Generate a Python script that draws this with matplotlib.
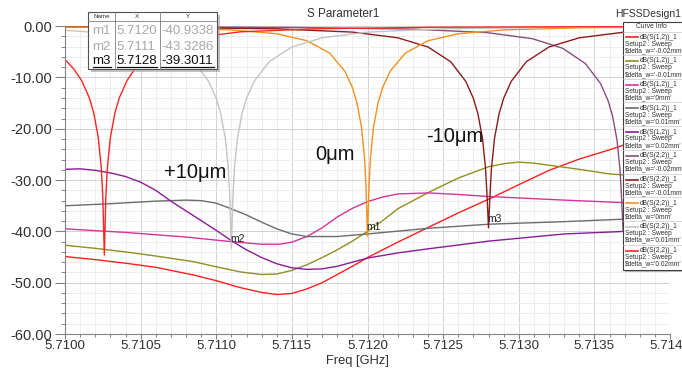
import matplotlib
matplotlib.use('Agg')
import matplotlib.pyplot as plt
from matplotlib.patches import Rectangle
from matplotlib.ticker import MultipleLocator, FormatStrFormatter

plt.rcParams['font.family'] = ['Liberation Sans', 'DejaVu Sans']

# ---------------------------------------------------------------------------
# dB(S(1,2)) traces for each $delta_w sweep point
f12_m002 = [5.7100, 5.7102, 5.7104, 5.7106, 5.71085, 5.7110, 5.71115, 5.7113, 5.7114,
            5.7115, 5.7116, 5.7117, 5.7118, 5.7119, 5.7120, 5.7122, 5.71241, 5.7126,
            5.71281, 5.7130, 5.7132, 5.7134, 5.7136, 5.71369, 5.7140]
db12_m002 = [-44.9, -45.5, -46.2, -47.0, -48.5, -49.6, -50.9, -51.9, -52.3,
             -52.1, -51.2, -50.0, -48.4, -46.8, -45.1, -42.1, -39.1, -36.4,
             -33.6, -30.9, -28.1, -25.9, -24.1, -23.2, -21.4]

f12_m001 = [5.7100, 5.7102, 5.7104, 5.7106, 5.71085, 5.7110, 5.71116, 5.7113, 5.7114,
            5.7115, 5.7116, 5.7117, 5.7118, 5.7119, 5.7120, 5.7121, 5.7122, 5.71241,
            5.7126, 5.7128, 5.7129, 5.7130, 5.7131, 5.7132, 5.7134, 5.7136, 5.7140]
db12_m001 = [-42.7, -43.3, -44.0, -44.8, -45.9, -46.9, -47.9, -48.4, -48.3,
             -47.6, -46.5, -45.1, -43.6, -41.9, -40.0, -37.9, -35.6, -32.3,
             -29.6, -27.4, -26.8, -26.5, -26.7, -27.1, -27.9, -28.8, -29.6]

f12_0 = [5.7100, 5.7104, 5.7108, 5.7111, 5.7113, 5.71142, 5.7115, 5.7116, 5.7117,
         5.7118, 5.7119, 5.7120, 5.7121, 5.7122, 5.7124, 5.7126, 5.7128, 5.7133,
         5.7137, 5.7140]
db12_0 = [-39.5, -40.2, -41.1, -42.0, -42.5, -42.5, -42.1, -41.0, -39.3,
          -37.2, -35.5, -34.2, -33.3, -32.7, -32.5, -32.8, -33.2, -33.9,
          -34.4, -34.5]

f12_p001 = [5.7100, 5.7103, 5.7106, 5.7108, 5.7109, 5.7110, 5.7111, 5.7112, 5.7113,
            5.7114, 5.7115, 5.7116, 5.7118, 5.7120, 5.7124, 5.7128, 5.7133, 5.7137, 5.7140]
db12_p001 = [-35.0, -34.6, -34.1, -33.9, -34.0, -34.5, -35.6, -36.8, -38.2,
             -39.5, -40.5, -41.0, -41.0, -40.5, -39.4, -38.6, -38.1, -37.6, -37.4]

f12_p002 = [5.7100, 5.7101, 5.7102, 5.7103, 5.7104, 5.7105, 5.7106, 5.7107, 5.7108,
            5.7109, 5.7110, 5.7111, 5.7112, 5.7113, 5.7114, 5.7115, 5.7116, 5.7117,
            5.7118, 5.7119, 5.7120, 5.7122, 5.7124, 5.7128, 5.7133, 5.7137, 5.7140]
db12_p002 = [-27.9, -27.8, -28.1, -28.6, -29.3, -30.4, -32.0, -34.1, -36.0,
             -37.9, -39.8, -41.8, -43.6, -45.1, -46.3, -47.1, -47.4, -47.3,
             -46.8, -46.0, -45.2, -44.2, -43.4, -41.9, -40.5, -40.0, -39.6]

# dB(S(2,2)) traces for each $delta_w sweep point
f22_m002 = [5.71000, 5.71149, 5.71229, 5.71279, 5.71309, 5.71329, 5.71344, 5.71354,
            5.71359, 5.71362, 5.71365, 5.71367, 5.71368, 5.71369, 5.71370, 5.71371,
            5.71373, 5.71376, 5.71379, 5.71384, 5.71394, 5.71400]
db22_m002 = [-0.08, -0.24, -0.56, -1.25, -2.43, -4.30, -7.27, -11.15,
             -14.47, -17.48, -22.26, -28.12, -33.66, -40.0, -33.66, -28.12,
             -22.26, -17.48, -14.47, -11.15, -7.27, -5.8]

f22_m001 = [5.71000, 5.71060, 5.71140, 5.71190, 5.71220, 5.71240, 5.71255, 5.71265,
            5.71270, 5.71273, 5.71276, 5.71278, 5.71279, 5.71280, 5.71281, 5.71282,
            5.71284, 5.71287, 5.71290, 5.71295, 5.71305, 5.71320, 5.71340, 5.71370, 5.71400]
db22_m001 = [-0.13, -0.22, -0.51, -1.15, -2.26, -4.05, -6.93, -10.76,
             -14.07, -17.07, -21.82, -27.59, -32.81, -39.30, -32.81, -27.59,
             -21.82, -17.07, -14.07, -10.76, -6.93, -4.05, -2.26, -1.15, -0.69]

f22_0 = [5.71000, 5.71060, 5.71110, 5.71140, 5.71160, 5.71175, 5.71185, 5.71190,
         5.71193, 5.71196, 5.71198, 5.71199, 5.71200, 5.71201, 5.71202, 5.71204,
         5.71207, 5.71210, 5.71215, 5.71225, 5.71240, 5.71260, 5.71290, 5.71340, 5.71400]
db22_0 = [-0.16, -0.31, -0.72, -1.48, -2.83, -5.25, -8.76, -11.95,
          -14.89, -19.64, -25.53, -31.18, -40.93, -31.18, -25.53, -19.64,
          -14.89, -11.95, -8.76, -5.25, -2.83, -1.48, -0.72, -0.31, -0.16]

f22_p001 = [5.71000, 5.71030, 5.71050, 5.71070, 5.71085, 5.71095, 5.71100, 5.71103,
            5.71106, 5.71108, 5.71109, 5.71110, 5.71111, 5.71112, 5.71114, 5.71117,
            5.71120, 5.71125, 5.71135, 5.71150, 5.71170, 5.71200, 5.71250, 5.71330, 5.71400]
db22_p001 = [-0.80, -1.41, -2.26, -4.05, -6.93, -10.77, -14.08, -17.08,
             -21.87, -27.77, -33.44, -43.33, -33.44, -27.77, -21.87, -17.08,
             -14.08, -10.77, -6.93, -4.05, -2.26, -1.15, -0.51, -0.22, -0.13]

f22_p002 = [5.71000, 5.71006, 5.71011, 5.71016, 5.71019, 5.71022, 5.71024, 5.71025,
            5.71026, 5.71027, 5.71028, 5.71030, 5.71033, 5.71036, 5.71041, 5.71046,
            5.71051, 5.71066, 5.71086, 5.71116, 5.71166, 5.71246, 5.71376, 5.71400]
db22_p002 = [-6.5, -8.4, -10.6, -13.9, -16.9, -21.7, -27.6, -33.3,
             -44.6, -33.3, -27.6, -21.7, -16.9, -13.9, -10.6, -8.4,
             -6.8, -3.9, -2.2, -1.1, -0.5, -0.2, -0.08, -0.07]

# Marker table
marker_names = ['m1', 'm2', 'm3']
marker_x = [5.7120, 5.7111, 5.7128]
marker_y = [-40.9338, -43.3286, -39.3011]

# Curve info
trace_names = ['dB(S(1,2))_1'] * 5 + ['dB(S(2,2))_1'] * 5
delta_w = ["-0.02mm", "-0.01mm", "0mm", "0.01mm", "0.02mm"] * 2
trace_colors = ['#ff1e1e', '#8f8f1e', '#d6339f', '#6c6c6c', '#8a1c96',
                '#8a4d80', '#8c1b1b', '#f5901e', '#c4c4c4', '#ff2424']
traces = [(f12_m002, db12_m002), (f12_m001, db12_m001), (f12_0, db12_0),
          (f12_p001, db12_p001), (f12_p002, db12_p002),
          (f22_m002, db22_m002), (f22_m001, db22_m001), (f22_0, db22_0),
          (f22_p001, db22_p001), (f22_p002, db22_p002)]

# ---------------------------------------------------------------------------
W, H = 682, 368
fig = plt.figure(figsize=(W / 100, H / 100), dpi=100)
fig.patch.set_facecolor('white')

ax = fig.add_axes([65 / W, 34 / H, 605 / W, 307.8 / H])
for (f, db), c in zip(traces, trace_colors):
    ax.plot(f, db, color=c, lw=1.0, solid_joinstyle='round')

ax.set_xlim(5.7100, 5.7140)
ax.set_ylim(-60, 0)
ax.xaxis.set_major_locator(MultipleLocator(0.0005))
ax.xaxis.set_minor_locator(MultipleLocator(0.0001))
ax.yaxis.set_major_locator(MultipleLocator(10))
ax.yaxis.set_minor_locator(MultipleLocator(2))
ax.xaxis.set_major_formatter(FormatStrFormatter('%.4f'))
ax.yaxis.set_major_formatter(FormatStrFormatter('%.2f'))

ax.set_axisbelow(True)
ax.grid(which='major', color='#d2d2d2', lw=0.7)
ax.grid(which='minor', color='#ebebeb', lw=0.6)
for s in ['top', 'right']:
    ax.spines[s].set_visible(False)
for s in ['left', 'bottom']:
    ax.spines[s].set_color('#808080')
    ax.spines[s].set_linewidth(0.8)
ax.tick_params(axis='y', which='major', length=7, width=0.8, color='#808080',
               labelsize=10.5, pad=2, labelcolor='#303030')
ax.tick_params(axis='y', which='minor', length=3, width=0.7, color='#808080')
ax.tick_params(axis='x', which='major', length=3.5, width=0.8, color='#808080',
               labelsize=9.6, pad=1, labelcolor='#303030')
ax.tick_params(axis='x', which='minor', length=2.5, width=0.7, color='#808080')

# Marker labels on the curves
for name, mx, my in zip(marker_names, marker_x, marker_y):
    ax.annotate(name, xy=(mx, my), xytext=(-1, 3), textcoords='offset points',
                fontsize=7.5, ha='left', va='bottom', color='#202020')

# ---------------------------------------------------------------------------
# Overlay in pixel coordinates for the boxes and free text
ov = fig.add_axes([0, 0, 1, 1], zorder=5)
ov.set_xlim(0, W)
ov.set_ylim(H, 0)
ov.axis('off')
ov.patch.set_alpha(0)

ov.text(343, 14, 'S Parameter1', fontsize=8.5, ha='center', va='center', color='#303030')
ov.text(681, 14, 'HFSSDesign1', fontsize=7.5, ha='right', va='center', color='#303030')
ov.text(357, 361, 'Freq [GHz]', fontsize=9.3, ha='center', va='center', color='#303030')

ov.text(195, 173, '+10μm', fontsize=14.5, ha='center', va='center', color='#111111')
ov.text(335, 155, '0μm', fontsize=14.5, ha='center', va='center', color='#111111')
ov.text(455, 137, '-10μm', fontsize=14.5, ha='center', va='center', color='#111111')

# Marker table
tx0, ty0, tx1, ty1 = 88, 12, 217, 69
ov.add_patch(Rectangle((tx0 + 3, ty0 + 3), tx1 - tx0, ty1 - ty0, facecolor='#9a9a9a',
                       edgecolor='none', alpha=0.6))
ov.add_patch(Rectangle((tx0, ty0), tx1 - tx0, ty1 - ty0, facecolor='white',
                       edgecolor='#505050', lw=0.8))
for cx in [115, 159.5]:
    ov.plot([cx, cx], [ty0, ty1], color='#808080', lw=0.6)
ov.plot([tx0, tx1], [20.5, 20.5], color='#808080', lw=0.6)
ov.text(101.5, 16.3, 'Name', fontsize=4.5, ha='center', va='center', color='#303030')
ov.text(137, 16.3, 'X', fontsize=4.5, ha='center', va='center', color='#303030')
ov.text(188, 16.3, 'Y', fontsize=4.5, ha='center', va='center', color='#303030')
row_y = [31, 46.7, 61.5]
for i, (name, mx, my) in enumerate(zip(marker_names, marker_x, marker_y)):
    active = i == len(marker_names) - 1
    col = '#101010' if active else '#a8a8a8'
    cells = [(92.5, name), (116.5, f'{mx:.4f}'), (161, f'{my:.4f}')]
    for cx, s in cells:
        ov.text(cx, row_y[i], s, fontsize=9.5, ha='left', va='center', color=col)
    if active:
        for a, b in [(93, 111), (116.5, 157), (161, 213.5)]:
            ov.plot([a, b], [67.3, 67.3], color='#101010', lw=0.9)

# Curve info box
lx0, ly0, lx1, ly1 = 623, 22, 690, 270
ov.add_patch(Rectangle((lx0 + 2, ly0 + 2), lx1 - lx0, ly1 - ly0, facecolor='#8a8a8a',
                       edgecolor='none', alpha=0.6))
ov.add_patch(Rectangle((lx0, ly0), lx1 - lx0, ly1 - ly0, facecolor='white',
                       edgecolor='#404040', lw=0.8))
ov.text(651, 27, 'Curve Info', fontsize=4.8, ha='center', va='center', color='#303030')
ov.plot([lx0, lx1], [31.5, 31.5], color='#c8c8c8', lw=0.5)
for i in range(len(trace_names)):
    y0 = 37.3 + i * 23.7
    ov.plot([626, 638], [y0, y0], color=trace_colors[i], lw=1.2)
    ov.text(640, y0, trace_names[i], fontsize=4.8, ha='left', va='center', color='#303030')
    ov.text(625, y0 + 6.8, 'Setup2 : Sweep', fontsize=4.8, ha='left', va='center', color='#303030')
    ov.text(625, y0 + 13.3, "$delta_w='" + delta_w[i] + "'", fontsize=4.8, ha='left',
            va='center', color='#303030')
    if i < len(trace_names) - 1:
        ov.plot([lx0, lx1], [y0 + 17.8, y0 + 17.8], color='#c8c8c8', lw=0.5)

fig.savefig('out.png', dpi=100, facecolor='white')
